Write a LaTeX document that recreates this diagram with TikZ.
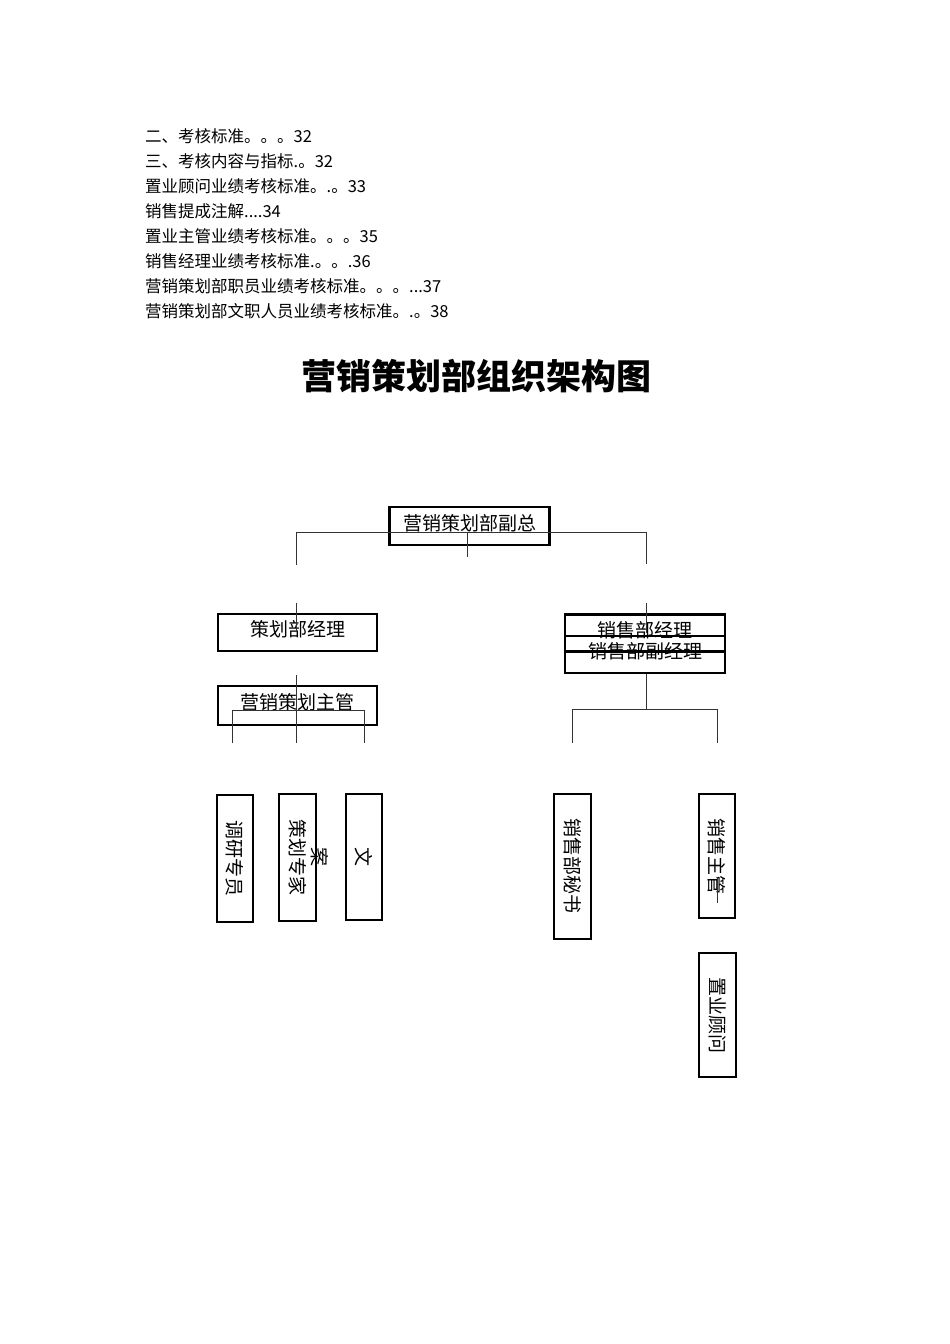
\documentclass[tikz,border=0pt]{standalone}
\usepackage{fontspec}
\setmainfont{Noto Sans CJK SC}
\usetikzlibrary{positioning}

\begin{document}
\begin{tikzpicture}[x=1pt, y=-1pt, font=\fontsize{19}{22}\selectfont,
      box/.style={draw, line width=2.2pt, inner sep=0pt, text height=14pt, text depth=6pt},
      vbox/.style={draw, line width=2.2pt, inner sep=0pt, rotate=-90},
      conn/.style={draw=black!80, line width=0.9pt}]
      \useasboundingbox (0,0) rectangle (950,1344);
      % contents list and title
      \node[anchor=west, align=left, inner sep=0pt, font=\fontsize{16.5}{25.1}\selectfont] (toc) at (145,223.7)
            {二、考核标准。。。32\\三、考核内容与指标.。32\\置业顾问业绩考核标准。.。33\\销售提成注解....34\\
             置业主管业绩考核标准。。。35\\销售经理业绩考核标准.。。.36\\营销策划部职员业绩考核标准。。。...37\\
             营销策划部文职人员业绩考核标准。.。38};
      \node[font=\fontsize{35}{40}\selectfont\bfseries] (title) at (476,376) {营销策划部组织架构图};
      % boxes
      \node[box, minimum width=160pt, minimum height=38pt] (vp)  at (469.5,526)   {营销策划部副总};
      \node[box, minimum width=159pt, minimum height=37pt] (plm) at (297.5,632.4) {策划部经理};
      \node[box, minimum width=159pt, minimum height=39pt] (pls) at (297.5,705.5) {营销策划主管};
      \node[box, minimum width=160pt, minimum height=37pt] (sm)  at (645,633)     {销售部经理};
      \node[box, minimum width=160pt, minimum height=37pt] (sdm) at (645,654.5)   {销售部副经理};
      \node[vbox, minimum width=126.4pt, minimum height=36.3pt] (res) at (235,858.5)   {调研专员};
      \node[vbox, minimum width=127pt,   minimum height=36.4pt] (plx) at (297.5,857.2) {策划专家};
      \node[vbox, minimum width=125.7pt, minimum height=36.3pt] (cpy) at (364.2,857.2) {文};
      \node[rotate=-90, inner sep=0pt] (cpy2) at (320,857) {案};
      \node[vbox, minimum width=145.3pt, minimum height=36.4pt] (sec) at (572.5,866.3) {销售部秘书};
      \node[vbox, minimum width=124pt,   minimum height=35.7pt] (ssv) at (717.2,856.3) {销售主管};
      \node[vbox, minimum width=124.6pt, minimum height=36.4pt] (agt) at (717.5,1015)  {置业顾问};
      % connector ends
      \coordinate (barL) at (296,532);     \coordinate (barR) at (646,532);
      \coordinate (legL) at (296,565);     \coordinate (legR) at (646,564);
      \coordinate (barM) at (467.7,532);   \coordinate (tailM) at (467.7,557);
      \coordinate (upL) at (296.7,602.7);  \coordinate (upR) at (646.7,602.7);
      \coordinate (subL) at (296.7,675);   \coordinate (footL) at (296.7,743);
      \coordinate (crossL) at (296.7,710); \coordinate (crossR) at (646.7,709.3);
      \coordinate (hookL1) at (232.7,743); \coordinate (hookL2) at (364,743);
      \coordinate (hookR1) at (572.7,743); \coordinate (hookR2) at (717.7,743);
      \coordinate (nickA) at (717,877);    \coordinate (nickB) at (717,903);
      % connectors
      \draw[conn] (legL) -- (barL) -- (barR) -- (legR); \draw[conn] (barM) -- (tailM);
      \draw[conn] (upL) -- (plm.center -| upL); \draw[conn] (upR) -- (sm.center -| upR);
      \draw[conn] (subL) -- (footL);
      \draw[conn] (hookL1) -- (hookL1 |- crossL) -- (hookL2 |- crossL) -- (hookL2);
      \draw[conn] (sdm.south -| upR) -- (crossR);
      \draw[conn] (hookR1) -- (hookR1 |- crossR) -- (hookR2 |- crossR) -- (hookR2);
      \draw[conn] (nickA) -- (nickB);
    \end{tikzpicture}
\end{document}
